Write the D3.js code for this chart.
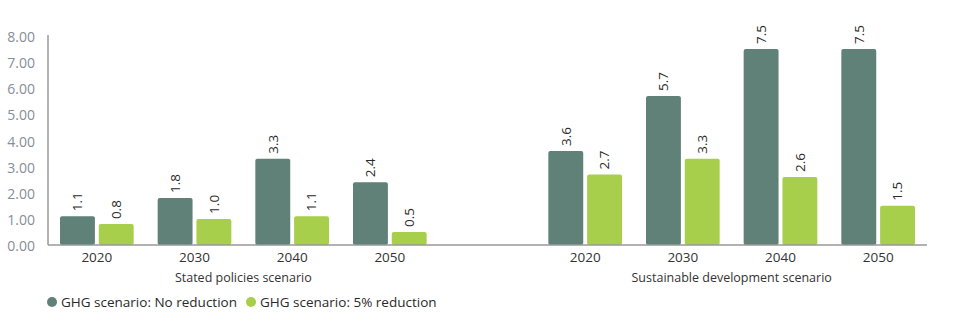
<!DOCTYPE html>
<html>
<head>
<meta charset="utf-8">
<script src="https://cdn.jsdelivr.net/npm/d3@7"></script>
<style>
  body { margin: 0; background: #fff; }
  text { font-family: "Open Sans", sans-serif; }
</style>
</head>
<body>
<div id="chart"></div>
<script>
const years = ["2020", "2030", "2040", "2050"]
const scenarios = ["Stated policies scenario", "Sustainable development scenario"]
const seriesNames = ["GHG scenario: No reduction", "GHG scenario: 5% reduction"]
// values per scenario, per year
const noReduction = [[1.1, 1.8, 3.3, 2.4], [3.6, 5.7, 7.5, 7.5]]
const fivePctReduction = [[0.8, 1.0, 1.1, 0.5], [2.7, 3.3, 2.6, 1.5]]
const yTicks = [0, 1, 2, 3, 4, 5, 6, 7, 8]

const colors = ["#5f8178", "#a7cf4b"]
const width = 959
const height = 332
const margin = {top: 36, bottom: 87, left: 48, right: 32}

const svg = d3.select("div#chart").append("svg").attr("width", width).attr("height", height)
const g = svg.append("g").attr("transform", `translate(${margin.left}, ${margin.top})`)
const innerW = width - margin.left - margin.right
const innerH = height - margin.top - margin.bottom

// slots: 4 years, one empty gap, 4 years
const slots = []
scenarios.forEach((s, si) => {
    years.forEach(yr => slots.push(si + "-" + yr))
    if (si === 0) slots.push("gap")
})

const x = d3.scaleBand().domain(slots).range([0, innerW]).paddingInner(0).paddingOuter(0)
const xSub = d3.scaleBand().domain([0, 1]).range([12, x.bandwidth() - 12]).paddingInner(0.1)
const y = d3.scaleLinear().domain([0, 8]).range([innerH, 0])

// data rows
const data = []
scenarios.forEach((s, si) => {
    years.forEach((yr, yi) => {
        data.push({slot: si + "-" + yr, series: 0, value: noReduction[si][yi]})
        data.push({slot: si + "-" + yr, series: 1, value: fivePctReduction[si][yi]})
    })
})

// y axis
const yAxis = d3.axisLeft(y).tickValues(yTicks).tickFormat(d3.format(".2f")).tickSize(0).tickPadding(13)
const yG = g.append("g").call(yAxis)
yG.select(".domain").attr("stroke", "#999").attr("stroke-width", 1.5).attr("d", `M0,${innerH}V-1`)
yG.selectAll("text").attr("fill", "#878d99").style("font-size", "14px").attr("dy", "0.4em")

// bars
g.selectAll("rect.bar").data(data).enter().append("rect")
    .attr("class", "bar")
    .attr("x", d => x(d.slot) + xSub(d.series))
    .attr("y", d => y(d.value))
    .attr("width", xSub.bandwidth())
    .attr("height", d => innerH - y(d.value))
    .attr("rx", 2)
    .attr("fill", d => colors[d.series])

// value labels
g.selectAll("text.val").data(data).enter().append("text")
    .attr("class", "val")
    .attr("transform", d => `translate(${x(d.slot) + xSub(d.series) + xSub.bandwidth() / 2}, ${y(d.value) - 5}) rotate(-90)`)
    .attr("dy", "0.35em")
    .attr("text-anchor", "start")
    .attr("fill", "#2a2a2a")
    .style("font-size", "13.5px")
    .style("font-weight", "500")
    .text(d => d.value.toFixed(1))

// x axis baseline
g.append("line")
    .attr("x1", 0).attr("x2", innerW)
    .attr("y1", innerH).attr("y2", innerH)
    .attr("stroke", "#999").attr("stroke-width", 1.5)

// year labels
g.selectAll("text.year").data(slots.filter(s => s !== "gap")).enter().append("text")
    .attr("class", "year")
    .attr("x", d => x(d) + x.bandwidth() / 2)
    .attr("y", innerH + 17)
    .attr("text-anchor", "middle")
    .attr("fill", "#333")
    .style("font-size", "13.5px")
    .text(d => d.split("-")[1])

// scenario labels
g.selectAll("text.scen").data(scenarios).enter().append("text")
    .attr("class", "scen")
    .attr("x", (d, i) => {
        const first = x(i + "-" + years[0])
        const last = x(i + "-" + years[years.length - 1]) + x.bandwidth()
        return (first + last) / 2
    })
    .attr("y", innerH + 37)
    .attr("text-anchor", "middle")
    .attr("fill", "#333")
    .style("font-size", "12.5px")
    .text(d => d)

// legend
const legend = svg.append("g").attr("transform", `translate(52, 302)`)
const legendX = [0, 199]
seriesNames.forEach((name, i) => {
    const lg = legend.append("g").attr("transform", `translate(${legendX[i]}, 0)`)
    lg.append("circle").attr("cx", 0).attr("cy", 0).attr("r", 5).attr("fill", colors[i])
    lg.append("text").attr("x", 9).attr("y", 0).attr("dy", "0.35em")
        .attr("fill", "#2a2a2a").style("font-size", "13.5px").text(name)
})
</script>
</body>
</html>
